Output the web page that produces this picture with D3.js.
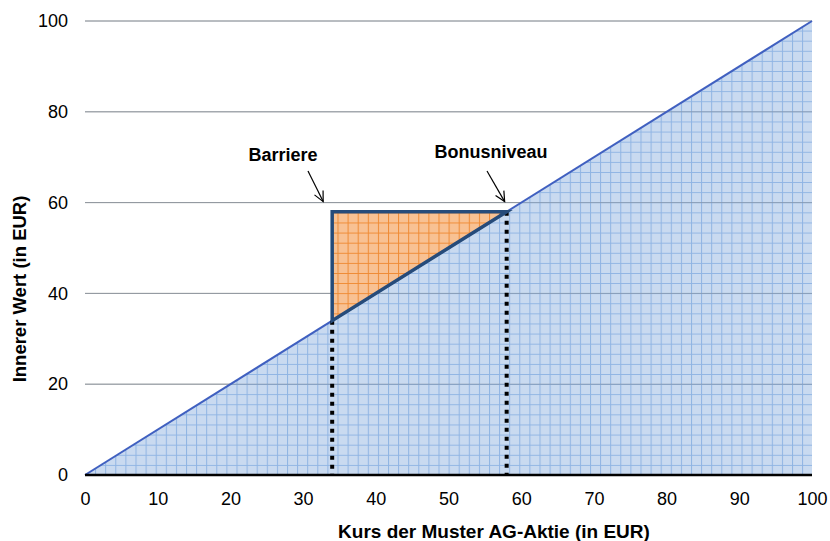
<!DOCTYPE html>
<html>
<head>
<meta charset="utf-8">
<script src="https://cdn.jsdelivr.net/npm/d3@7"></script>
<style>
  body { margin: 0; background: #fff; }
  svg { font-family: "Liberation Sans", Arial, sans-serif; }
</style>
</head>
<body>
<div id="chart"></div>
<script>
const xTicks = [0, 10, 20, 30, 40, 50, 60, 70, 80, 90, 100]
const yTicks = [0, 20, 40, 60, 80, 100]
const kurs = [0, 100]          // underlying price
const wert = [0, 100]          // intrinsic value without bonus
const barriere = 34
const bonusniveau = 58
const labels = ["Barriere", "Bonusniveau"]

const width = 830, height = 541
const margin = { left: 85, right: 18, top: 21, bottom: 66 }

const svg = d3.select("#chart").append("svg")
  .attr("width", width).attr("height", height)

const x = d3.scaleLinear().domain([0, 100]).range([margin.left, width - margin.right])
const y = d3.scaleLinear().domain([0, 100]).range([height - margin.bottom, margin.top])

// hatch patterns
const defs = svg.append("defs")
const makePattern = (id, bg, line) => {
  const p = defs.append("pattern").attr("id", id)
    .attr("patternUnits", "userSpaceOnUse")
    .attr("width", 10.1).attr("height", 10.1)
    .attr("x", x(0)).attr("y", y(0))
  p.append("rect").attr("width", 10.1).attr("height", 10.1).attr("fill", bg)
  p.append("path").attr("d", "M0,0.5H10.1M0.5,0V10.1")
    .attr("stroke", line).attr("stroke-width", 1).attr("fill", "none")
}
makePattern("blueGrid", "#c9daf0", "#8fb4e3")
makePattern("orangeGrid", "#f8c193", "#ef8a33")

// gridlines
svg.append("g").selectAll("line").data(yTicks.filter(d => d > 0)).enter().append("line")
  .attr("x1", x(0)).attr("x2", x(100))
  .attr("y1", d => y(d)).attr("y2", d => y(d))
  .attr("stroke", "#a6a6a6").attr("stroke-width", 1)

// blue area under payoff line
const area = d3.area().x((d, i) => x(kurs[i])).y0(y(0)).y1((d, i) => y(wert[i]))
svg.append("path").datum(kurs).attr("d", area).attr("fill", "url(#blueGrid)")

// gridlines faintly visible over fill
svg.append("g").selectAll("line").data(yTicks.filter(d => d > 0)).enter().append("line")
  .attr("x1", x(0)).attr("x2", x(100))
  .attr("y1", d => y(d)).attr("y2", d => y(d))
  .attr("stroke", "#7f8a99").attr("stroke-width", 1).attr("opacity", 0.6)

// payoff line
const line = d3.line().x((d, i) => x(kurs[i])).y((d, i) => y(wert[i]))
svg.append("path").datum(kurs).attr("d", line)
  .attr("fill", "none").attr("stroke", "#4060c0").attr("stroke-width", 2)

// dotted verticals
svg.append("g").selectAll("line").data([barriere, bonusniveau]).enter().append("line")
  .attr("x1", d => x(d)).attr("x2", d => x(d))
  .attr("y1", d => y(d)).attr("y2", y(0))
  .attr("stroke", "#000").attr("stroke-width", 4).attr("stroke-dasharray", "4,5")

// bonus triangle
const tri = [[barriere, barriere], [barriere, bonusniveau], [bonusniveau, bonusniveau]]
svg.append("path")
  .attr("d", "M" + tri.map(d => [x(d[0]), y(d[1])].join(",")).join("L") + "Z")
  .attr("fill", "url(#orangeGrid)")
  .attr("stroke", "#264b7a").attr("stroke-width", 3.5).attr("stroke-linejoin", "miter")

// x axis
svg.append("line").attr("x1", x(0)).attr("x2", x(100)).attr("y1", y(0)).attr("y2", y(0))
  .attr("stroke", "#000").attr("stroke-width", 2.5)

const xAxis = d3.axisBottom(x).tickValues(xTicks).tickSize(0).tickPadding(17)
svg.append("g").attr("transform", `translate(0,${y(0)})`).call(xAxis)
  .call(g => g.select(".domain").remove())
  .selectAll("text").attr("font-size", 18).attr("fill", "#000")
  .attr("font-family", "Liberation Sans, Arial, sans-serif")

const yAxis = d3.axisLeft(y).tickValues(yTicks).tickSize(0).tickPadding(17)
svg.append("g").attr("transform", `translate(${x(0)},0)`).call(yAxis)
  .call(g => g.select(".domain").remove())
  .selectAll("text").attr("font-size", 18).attr("fill", "#000")
  .attr("font-family", "Liberation Sans, Arial, sans-serif")

// axis titles
svg.append("text").attr("x", 494).attr("y", 538)
  .attr("text-anchor", "middle").attr("font-size", 19).attr("font-weight", "bold")
  .text("Kurs der Muster AG-Aktie (in EUR)")
svg.append("text")
  .attr("transform", `translate(26,289) rotate(-90)`)
  .attr("text-anchor", "middle").attr("font-size", 18.5).attr("font-weight", "bold")
  .text("Innerer Wert (in EUR)")

// annotations
const ann = [
  { text: labels[0], tx: 283, ty: 161, from: [308, 171], to: [x(barriere) - 9, y(60) - 1] },
  { text: labels[1], tx: 491, ty: 158, from: [487, 171], to: [x(bonusniveau) - 2, y(60) - 1] }
]
ann.forEach(a => {
  svg.append("text").attr("x", a.tx).attr("y", a.ty).attr("text-anchor", "middle")
    .attr("font-size", 18).attr("font-weight", "bold").text(a.text)
  svg.append("line").attr("x1", a.from[0]).attr("y1", a.from[1])
    .attr("x2", a.to[0]).attr("y2", a.to[1]).attr("stroke", "#000").attr("stroke-width", 1.2)
  const ang = Math.atan2(a.to[1] - a.from[1], a.to[0] - a.from[0])
  const L = 11, spread = 0.45
  const p1 = [a.to[0] - L * Math.cos(ang - spread), a.to[1] - L * Math.sin(ang - spread)]
  const p2 = [a.to[0] - L * Math.cos(ang + spread), a.to[1] - L * Math.sin(ang + spread)]
  svg.append("path").attr("d", `M${p1}L${a.to}L${p2}`)
    .attr("fill", "none").attr("stroke", "#000").attr("stroke-width", 1.2)
})
</script>
</body>
</html>
